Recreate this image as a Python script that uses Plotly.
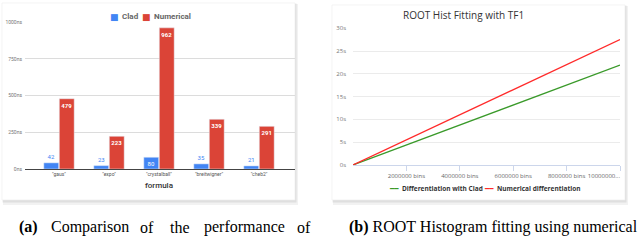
import plotly.graph_objects as go

# ---- data: left panel (bar chart) ----
formulas = ['"gaus"', '"expo"', '"crystalball"', '"breitwigner"', '"cheb2"']
clad_ns = [42, 23, 80, 35, 21]
numerical_ns = [479, 223, 962, 339, 291]
bar_yticks = [0, 250, 500, 750, 1000]
bar_yticklabels = ["0ns", "250ns", "500ns", "750ns", "1000ns"]

# ---- data: right panel (line chart) ----
bins = [0, 2000000, 4000000, 6000000, 8000000, 10000000]
clad_s = [0, 4.4, 8.8, 13.1, 17.5, 21.9]
numdiff_s = [0, 5.5, 11.0, 16.5, 22.0, 27.5]
line_xticks = [2000000, 4000000, 6000000, 8000000, 10000000]
line_xticklabels = ["2000000 bins", "4000000 bins", "6000000 bins", "8000000 bins", ""]
last_xtick = [10000000]
last_xticklabel = ["10000000..."]
line_yticks = [0, 5, 10, 15, 20, 25, 30]
line_yticklabels = ["0s", "5s", "10s", "15s", "20s", "25s", "30s"]

W, H = 640, 241
def px(x):
    return x / W
def py(y):
    return 1 - y / H

BLUE = "#4285F4"
RED = "#DB4437"
GREEN = "#3a9a2a"
LRED = "#ff2a2a"

fig = go.Figure()

clad_textpos = ["outside", "outside", "inside", "outside", "outside"]
fig.add_trace(go.Bar(
    x=formulas, y=clad_ns, name="Clad", marker_color=BLUE,
    text=[str(v) for v in clad_ns], textposition=clad_textpos, textangle=0,
    insidetextanchor="middle", constraintext="none",
    insidetextfont=dict(color="white", size=6, family="Roboto"),
    outsidetextfont=dict(color=BLUE, size=6, family="Roboto"),
    showlegend=False, xaxis="x", yaxis="y", cliponaxis=False,
))
fig.add_trace(go.Bar(
    x=formulas, y=numerical_ns, name="Numerical", marker_color=RED,
    text=[str(v) for v in numerical_ns], textposition="inside", textangle=0,
    insidetextanchor="end", constraintext="none",
    insidetextfont=dict(color="white", size=6, family="Roboto", weight="bold"),
    showlegend=False, xaxis="x", yaxis="y",
))

fig.add_trace(go.Scatter(
    x=bins, y=clad_s, mode="lines", name="Differentiation with Clad",
    line=dict(color=GREEN, width=1.3), showlegend=False, xaxis="x2", yaxis="y2",
))
fig.add_trace(go.Scatter(
    x=bins, y=numdiff_s, mode="lines", name="Numerical differentiation",
    line=dict(color=LRED, width=1.3), showlegend=False, xaxis="x2", yaxis="y2",
))
# empty helper trace so the overlay axis (last tick label) gets drawn
fig.add_trace(go.Scatter(x=[], y=[], mode="lines", showlegend=False,
                         hoverinfo="skip", xaxis="x3", yaxis="y2"))

# cards with shadows
shapes = []
def card(x0, y0, x1, y1):
    shapes.append(dict(type="rect", xref="paper", yref="paper", layer="below",
                       x0=px(x0 + 1), x1=px(x1 + 3), y0=py(y1 + 5), y1=py(y0 + 1),
                       fillcolor="rgba(0,0,0,0.05)", line=dict(width=0)))
    shapes.append(dict(type="rect", xref="paper", yref="paper", layer="below",
                       x0=px(x0 + 0.5), x1=px(x1 + 1.5), y0=py(y1 + 2.5), y1=py(y0 + 0.5),
                       fillcolor="rgba(0,0,0,0.08)", line=dict(width=0)))
    shapes.append(dict(type="rect", xref="paper", yref="paper", layer="below",
                       x0=px(x0), x1=px(x1), y0=py(y1), y1=py(y0),
                       fillcolor="white", line=dict(color="#ececec", width=0.6)))
card(2, 3, 295, 200)
card(332, 5, 625, 200)

ann = []
def add(x, y, text, font, xanchor="left"):
    ann.append(dict(x=px(x), y=py(y), xref="paper", yref="paper", text=text, font=font,
                    showarrow=False, xanchor=xanchor, yanchor="middle"))

# left legend
add(114, 17, "■", dict(color=BLUE, size=9, family="DejaVu Sans"), "center")
add(119.5, 17, "Clad", dict(color="#666", size=8, family="Roboto", weight="bold"))
add(146, 17, "■", dict(color=RED, size=9, family="DejaVu Sans"), "center")
add(151.5, 17, "Numerical", dict(color="#666", size=8, family="Roboto", weight="bold"))
# x title left
add(159, 185, "formula", dict(color="#333", size=8, family="Roboto", weight=500), "center")
# right title
add(463, 15, "ROOT Hist Fitting with TF1", dict(color="#333", size=10, family="Open Sans"), "center")
# right legend
add(386.5, 188.5, "━━", dict(color=GREEN, size=7, family="DejaVu Sans"))
add(399.5, 188.5, "Differentiation with Clad", dict(color="#333", size=6.5, family="Open Sans", weight="bold"))
add(481.5, 188.5, "━━", dict(color=LRED, size=7, family="DejaVu Sans"))
add(494.5, 188.5, "Numerical differentiation", dict(color="#333", size=6.5, family="Open Sans", weight="bold"))

# captions
serif = "Liberation Serif"
words_a = [("<b>(a)</b>", 17), ("Comparison", 49), ("of", 138), ("the", 168), ("performance", 202), ("of", 295)]
for t, x in words_a:
    add(x, 227, t, dict(color="black", size=16, family=serif))
add(347, 227, "<b>(b)</b> ROOT Histogram fitting using numerical", dict(color="black", size=16, family=serif))

xtickfont2 = dict(size=6, color="#666", family="Open Sans")
fig.update_layout(
    width=W, height=H, autosize=False,
    margin=dict(l=0, r=0, t=0, b=0),
    paper_bgcolor="white", plot_bgcolor="rgba(0,0,0,0)",
    barmode="group", bargap=0.38, bargroupgap=0.04,
    shapes=shapes, annotations=ann,
    xaxis=dict(domain=[px(25), px(295)], range=[-0.68, 4.72], type="category",
               tickfont=dict(size=5, color="#555", family="Roboto"),
               showgrid=False, showline=True, linecolor="#444", linewidth=1,
               ticks="", ticklen=0, automargin=False, fixedrange=True),
    yaxis=dict(domain=[py(169), py(22)], range=[0, 1002],
               tickvals=bar_yticks, ticktext=bar_yticklabels,
               tickfont=dict(size=5, color="#777", family="Roboto"),
               showgrid=True, gridcolor="#dcdcdc", gridwidth=0.8, zeroline=False,
               showline=False, ticks="", automargin=False, fixedrange=True, ticklabelstandoff=2),
    xaxis2=dict(domain=[px(353), px(620)], range=[0, 10000000], anchor="y2",
                tickvals=line_xticks, ticktext=line_xticklabels,
                tickfont=xtickfont2,
                showgrid=False, showline=True, linecolor="#ccd6eb", linewidth=1,
                ticks="outside", ticklen=5, tickcolor="#ccd6eb", zeroline=False,
                automargin=False, fixedrange=True),
    xaxis3=dict(domain=[px(353), px(620)], range=[0, 10000000], anchor="y2",
                overlaying="x2", side="bottom",
                tickvals=last_xtick, ticktext=last_xticklabel,
                tickfont=xtickfont2, ticklabelposition="outside left",
                showgrid=False, showline=False, ticks="", zeroline=False,
                automargin=False, fixedrange=True, ticklabelstandoff=6),
    yaxis2=dict(domain=[py(165), py(28)], range=[-0.01, 30.05], anchor="x2",
                tickvals=line_yticks, ticktext=line_yticklabels,
                tickfont=dict(size=6, color="#777", family="Open Sans"),
                showgrid=True, gridcolor="#ebebeb", gridwidth=0.8, zeroline=False,
                showline=False, ticks="", automargin=False, fixedrange=True, ticklabelstandoff=6),
)

fig.write_html("out.html", config={"displayModeBar": False},
               post_script="document.body.style.margin='0';document.body.style.overflow='hidden';")
